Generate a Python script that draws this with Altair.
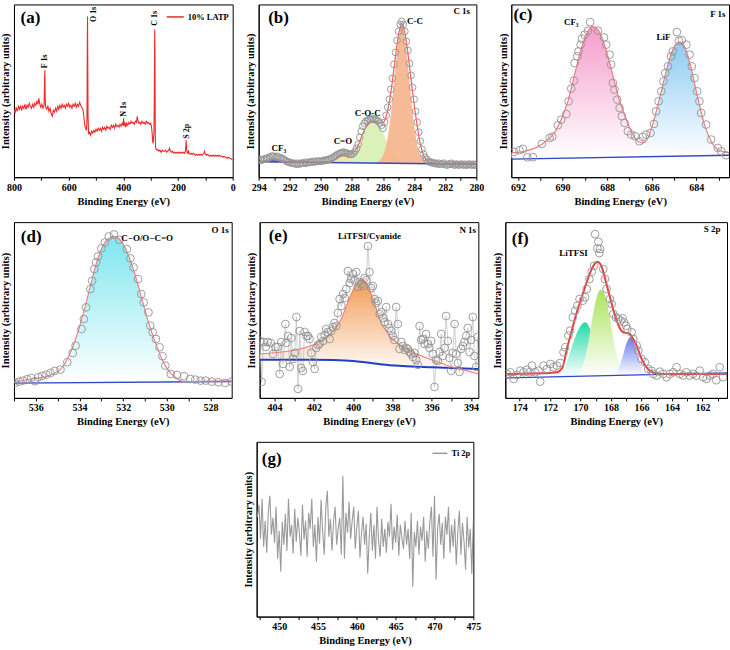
import altair as alt
import pandas as pd

FONT = "Times New Roman, Liberation Serif, serif"
XT = "Binding Energy (eV)"
YT = "Intensity (arbitrary units)"
GRAY = "#939393"

# ---------------- (a) survey ----------------
a_be = [800, 796, 792, 788, 784, 780, 776, 772, 768, 764,
        760, 756, 752, 748, 744, 740, 736, 732, 728, 724,
        720, 716, 712, 709, 706, 702, 698, 694, 690, 688,
        687, 686, 684, 680, 676, 672, 668, 664, 660, 656,
        652, 648, 644, 640, 636, 632, 628, 624, 620, 616,
        612, 608, 604, 600, 596, 592, 588, 584, 580, 576,
        572, 568, 564, 560, 556, 552, 548, 545, 541, 538,
        535, 533, 532, 531, 530, 529, 527, 524, 520, 516,
        512, 508, 504, 500, 496, 492, 488, 484, 480, 476,
        472, 468, 464, 460, 456, 452, 448, 444, 440, 436,
        432, 428, 424, 420, 416, 412, 408, 404, 401, 399,
        397, 394, 391, 388, 384, 380, 376, 372, 368, 364,
        360, 356, 352, 349, 346, 343, 340, 336, 332, 328,
        324, 320, 316, 312, 308, 304, 300, 297, 294, 292,
        290, 288, 287, 286, 285, 284, 283, 282, 280, 277,
        274, 270, 266, 262, 258, 254, 250, 246, 242, 238,
        234, 231, 228, 224, 220, 216, 212, 208, 204, 200,
        196, 192, 188, 184, 180, 176, 173, 171, 170, 169,
        167, 164, 162, 160, 156, 152, 148, 144, 140, 136,
        132, 128, 124, 120, 116, 112, 108, 105, 103, 100,
        96, 92, 88, 84, 80, 76, 72, 68, 64, 60,
        56, 52, 48, 44, 40, 36, 32, 28, 24, 20,
        16, 12, 8, 4, 0]
a_int = [68, 64, 70, 66, 71, 68, 72, 67, 71, 69,
         73, 68, 72, 70, 74, 71, 69, 73, 70, 74,
         72, 76, 73, 79, 74, 70, 73, 69, 72, 98,
         107, 80, 70, 68, 71, 66, 69, 64, 61, 67,
         65, 69, 66, 71, 68, 72, 69, 73, 70, 72,
         69, 73, 71, 74, 70, 72, 69, 73, 71, 74,
         70, 73, 71, 75, 72, 70, 68, 62, 52, 49,
         47, 58, 120, 161, 110, 60, 43, 45, 42, 46,
         44, 47, 45, 48, 46, 49, 47, 49, 46, 50,
         48, 50, 47, 51, 49, 50, 48, 52, 50, 52,
         49, 53, 51, 52, 50, 53, 51, 54, 52, 59,
         51, 55, 50, 54, 52, 55, 53, 56, 54, 55,
         53, 56, 55, 61, 56, 54, 55, 53, 56, 54,
         55, 53, 56, 54, 55, 53, 54, 51, 42, 34,
         36, 45, 70, 120, 148, 100, 40, 30, 28, 27,
         28, 26, 27, 25, 27, 26, 26, 27, 25, 26,
         27, 29, 26, 25, 26, 24, 25, 24, 25, 24,
         25, 24, 25, 24, 25, 24, 26, 33, 37, 30,
         25, 24, 27, 24, 23, 24, 23, 24, 23, 22,
         23, 22, 23, 22, 23, 22, 23, 24, 26, 23,
         22, 23, 22, 21, 22, 21, 22, 21, 22, 21,
         22, 21, 22, 21, 21, 20, 21, 20, 20, 19,
         20, 19, 19, 18, 18]
a_series = "10% LATP"
a_peak_lab = ["F 1s", "O 1s", "N 1s", "C 1s", "S 2p"]
a_peak_be = [687, 506, 398, 282.5, 166]
a_peak_int = [116, 163, 68, 159, 46]
a_ticks = [800, 700, 600, 500, 400, 300, 200, 100, 0]
a_labels = [800, 600, 400, 200, 0]

# ---------------- (b) C 1s ----------------
b_raw_be = [294.0, 293.9, 293.8, 293.7, 293.6, 293.5, 293.4, 293.3, 293.2, 293.1,
            293.0, 292.9, 292.8, 292.7, 292.6, 292.5, 292.4, 292.3, 292.2, 292.1,
            292.0, 291.9, 291.8, 291.7, 291.6, 291.5, 291.4, 291.3, 291.2, 291.1,
            291.0, 290.9, 290.8, 290.7, 290.6, 290.5, 290.4, 290.3, 290.2, 290.1,
            290.0, 289.9, 289.8, 289.7, 289.6, 289.5, 289.4, 289.3, 289.2, 289.1,
            289.0, 288.9, 288.8, 288.7, 288.6, 288.5, 288.4, 288.3, 288.2, 288.1,
            288.0, 287.9, 287.8, 287.7, 287.6, 287.5, 287.4, 287.3, 287.2, 287.1,
            287.0, 286.9, 286.8, 286.7, 286.6, 286.5, 286.4, 286.3, 286.2, 286.1,
            286.0, 285.9, 285.8, 285.7, 285.6, 285.5, 285.4, 285.3, 285.2, 285.1,
            285.0, 284.9, 284.8, 284.7, 284.6, 284.5, 284.4, 284.3, 284.2, 284.1,
            284.0, 283.9, 283.8, 283.7, 283.6, 283.5, 283.4, 283.3, 283.2, 283.1,
            283.0, 282.9, 282.8, 282.7, 282.6, 282.5, 282.4, 282.3, 282.2, 282.1,
            282.0, 281.9, 281.8, 281.7, 281.6, 281.5, 281.4, 281.3, 281.2, 281.1,
            281.0, 280.9, 280.8, 280.7, 280.6, 280.5, 280.4, 280.3, 280.2, 280.1,
            280.0]
b_raw_i = [17, 18, 17, 18, 18, 19, 19, 20, 21, 21,
           21, 20, 21, 20, 19, 19, 18, 17, 16, 15,
           15, 14, 14, 14, 13, 14, 13, 14, 14, 14,
           15, 14, 15, 15, 15, 16, 15, 16, 16, 16,
           16, 16, 17, 17, 17, 18, 18, 19, 20, 21,
           22, 23, 24, 24, 25, 25, 24, 24, 23, 23,
           23, 24, 26, 29, 33, 40, 46, 51, 54, 56,
           57, 58, 58, 59, 58, 58, 57, 56, 54, 52,
           49, 55, 62, 70, 78, 88, 99, 113, 125, 137,
           146, 153, 156, 153, 146, 136, 127, 114, 102, 90,
           78, 66, 55, 45, 36, 28, 23, 20, 18, 16,
           15, 15, 14, 14, 14, 13, 14, 13, 13, 14,
           13, 12, 13, 13, 14, 13, 12, 13, 13, 12,
           13, 13, 12, 13, 12, 13, 13, 12, 13, 12,
           13]
b_fit_be = [294.0, 293.6, 293.3, 293.0, 292.7, 292.4, 292.0, 291.0, 290.0, 289.5,
            289.2, 289.0, 288.8, 288.5, 288.2, 288.0, 287.8, 287.6, 287.4, 287.2,
            287.0, 286.8, 286.6, 286.4, 286.2, 286.0, 285.8, 285.6, 285.4, 285.2,
            285.0, 284.8, 284.6, 284.4, 284.2, 284.0, 283.8, 283.6, 283.4, 283.2,
            283.0, 282.5, 282.0, 281.0, 280.0]
b_fit_i = [15.6, 16.2, 17.2, 17.6, 17.0, 16.0, 15.3, 15.0, 15.1, 15.6,
           17.0, 19.0, 21.5, 23.5, 23.0, 23.5, 26.5, 32, 40, 47,
           52, 55, 56, 55.5, 54.5, 54.5, 61, 75, 96, 121,
           143, 154, 145, 124, 98, 73, 51, 33, 22, 17,
           15, 13.8, 13.5, 13.2, 13.0]
b_bg_be = [294.0, 280.0]
b_bg_i = [15.5, 13.0]
b_cf3_be = [293.6, 293.4, 293.2, 293.0, 292.8, 292.6, 292.4]
b_cf3_i = [15.4, 16.0, 17.0, 17.6, 17.0, 16.0, 15.4]
b_co_be = [289.8, 289.5, 289.2, 289.0, 288.8, 288.6, 288.4, 288.2, 288.0, 287.8, 287.5, 287.2]
b_co_i = [14.6, 15.5, 17.5, 19.5, 21.5, 23.0, 23.0, 21.5, 19.5, 17.5, 15.5, 14.6]
b_coc_be = [288.6, 288.4, 288.2, 288.0, 287.8, 287.6, 287.4, 287.2, 287.0, 286.8, 286.6,
            286.4, 286.2, 286.0, 285.8, 285.6, 285.4, 285.2, 285.0, 284.8, 284.6]
b_coc_i = [14.5, 15.5, 17, 20, 24, 30, 37, 44, 50, 54, 55, 54, 50, 44, 37, 30, 24, 20, 17, 15.5, 14.5]
b_cc_be = [286.6, 286.4, 286.2, 286.0, 285.8, 285.6, 285.4, 285.2, 285.0, 284.8,
           284.6, 284.4, 284.2, 284.0, 283.8, 283.6, 283.4, 283.2, 283.0, 282.8]
b_cc_i = [14, 15, 17, 22, 32, 50, 78, 110, 138, 154, 140, 112, 80, 52, 32, 21, 16.5, 14.8, 14.2, 14]
b_comp_lo = [15.3, 14.5, 14.2, 13.9]
b_lab_t = ["C 1s", "C-C", "C-O-C", "C=O", "CF\u2083"]
b_lab_be = [280.94, 283.94, 286.98, 288.58, 292.7]
b_lab_i = [166, 156, 64, 36, 29]
b_ticks = [294, 293, 292, 291, 290, 289, 288, 287, 286, 285, 284, 283, 282, 281, 280]
b_labels = [294, 292, 290, 288, 286, 284, 282, 280]

# ---------------- (c) F 1s ----------------
c_raw_be = [692.18, 691.93, 691.78, 691.58, 691.33, 690.93, 690.58, 690.46, 690.21, 690.06,
            689.83, 689.73, 689.61, 689.49, 689.46, 689.34, 689.28, 689.19, 689.13, 689.01,
            688.86, 688.76, 688.41, 688.14, 688.04, 687.89, 687.82, 687.74, 687.67, 687.55,
            687.44, 687.34, 687.22, 687.07, 686.92, 686.74, 686.55, 686.4, 686.25, 686.05,
            685.9, 685.8, 685.69, 685.57, 685.47, 685.39, 685.27, 685.13, 685.05, 684.87,
            684.78, 684.65, 684.44, 684.3, 684.2, 684.08, 683.96, 683.86, 683.78, 683.56,
            683.33, 683.03, 682.88, 682.66]
c_raw_i = [25.3, 27, 28.3, 20, 20, 33.3, 39.3, 40.7, 52, 57.7,
           63.3, 76, 88.7, 96.7, 114.3, 121, 126, 132.7, 138.7, 142.7,
           146.7, 155.3, 146.7, 140, 132.7, 122.7, 112.7, 94.3, 87.7, 77.7,
           69.3, 61, 54.3, 46, 42.7, 41, 36, 40.3, 42.7, 44.3,
           53.3, 66, 76, 86, 96, 104.3, 111, 121, 126, 145.3,
           136.7, 137.3, 132.7, 122.7, 111, 99.3, 86, 76, 64.3, 52.7,
           37.7, 29.3, 26, 22]
c_fit_be = [692.3, 691.7, 690.95, 690.2, 689.76, 689.46, 689.16, 688.86, 688.64, 688.41,
            688.12, 687.82, 687.52, 687.22, 686.92, 686.62, 686.4, 686.17, 685.87, 685.57,
            685.27, 684.98, 684.75, 684.53, 684.23, 683.93, 683.63, 683.33, 683.03, 682.53]
c_fit_i = [24.3, 26, 32.7, 51, 76, 102.7, 129, 146, 151, 147.7,
           132.7, 109, 82.7, 62.7, 46, 36, 34.3, 39, 59.3, 86,
           112.7, 131, 135.3, 131, 109, 79.3, 52.7, 36, 27.7, 24.3]
c_cf3_be = [692.3, 691.7, 690.95, 690.2, 689.76, 689.46, 689.16, 688.86, 688.64, 688.41,
            688.12, 687.82, 687.52, 687.22, 686.92, 686.62, 686.4, 686.17, 685.9, 685.6]
c_cf3_i = [24, 26, 32.5, 51, 76, 102.5, 129, 146, 151, 147.5,
           132.5, 109, 82.5, 62.5, 45, 33, 27, 23, 20.5, 20]
c_lif_be = [687.2, 686.9, 686.62, 686.4, 686.17, 685.87, 685.57, 685.27, 684.98, 684.75,
            684.53, 684.23, 683.93, 683.63, 683.33, 683.03, 682.53]
c_lif_i = [20.5, 21.5, 24, 28, 36, 58, 85.5, 112.5, 131, 135.3,
           131, 109, 79, 52.5, 36, 27.5, 24]
c_comp_lo = [19.5, 21]
c_bg_be = [692.3, 682.53]
c_bg_i = [18, 22]
c_lab_t = ["F 1s", "CF\u2083", "LiF"]
c_lab_be = [683.03, 689.61, 685.47]
c_lab_i = [163.3, 155.3, 140]
c_ticks = [692, 691, 690, 689, 688, 687, 686, 685, 684, 683]
c_labels = [692, 690, 688, 686, 684]

# ---------------- (d) O 1s ----------------
d_raw_be = [536.95, 536.77, 536.59, 536.39, 536.21, 536.04, 535.89, 535.71, 535.52, 535.33,
            535.13, 534.87, 534.56, 534.31, 534.18, 533.91, 533.8, 533.7, 533.5, 533.42,
            533.32, 533.24, 533.15, 533.0, 532.84, 532.66, 532.42, 532.18, 531.83, 531.67,
            531.52, 531.32, 531.17, 531.06, 530.84, 530.76, 530.65, 530.5, 530.33, 530.2,
            530.07, 529.82, 529.54, 529.21, 528.93, 528.7, 528.45, 528.22, 527.94, 527.64,
            527.33, 527.03]
d_raw_i = [15, 16.3, 17.3, 18.7, 20, 16.7, 20.7, 22, 23.3, 25,
           27, 28.3, 35.7, 45, 52.3, 69, 79, 90.7, 109, 117.3,
           129, 135.7, 141.7, 149.7, 155.7, 161.7, 163.7, 158.3, 149, 139.7,
           130.7, 119, 104, 95.7, 85.7, 72.3, 65.7, 59, 50.7, 41.7,
           32.3, 24, 23, 21.7, 19, 18.3, 17.3, 17.3, 16.3, 15.7,
           15, 16.3]
d_fit_be = [537.0, 536.16, 535.4, 534.79, 534.41, 534.03, 533.73, 533.42, 533.12, 532.81,
            532.43, 532.05, 531.75, 531.44, 531.14, 530.84, 530.53, 530.23, 529.92, 529.62,
            529.16, 528.55, 527.03]
d_fit_i = [16.3, 19, 22.3, 30.7, 45.7, 69, 92.3, 119, 142.3, 156.3,
           161.7, 155.7, 142.3, 122.3, 99, 75.7, 55.7, 39, 27.3, 20.7,
           16.3, 16.5, 17]
d_comp_lo = [15.3]
d_bg_be = [537.0, 527.03]
d_bg_i = [14.7, 16.4]
d_lab_t = ["O 1s", "C\u2212O/O\u2212C=O"]
d_lab_be = [527.56, 530.9]
d_lab_i = [168.3, 159.7]
d_ticks = [537, 536, 535, 534, 533, 532, 531, 530, 529, 528]
d_labels = [536, 534, 532, 530, 528]

# ---------------- (e) N 1s ----------------
e_raw_be = [404.74, 404.66, 404.55, 404.45, 404.35, 404.2, 404.08, 403.95, 403.83, 403.74,
            403.66, 403.57, 403.45, 403.4, 403.32, 403.23, 403.15, 403.06, 402.97, 402.89,
            402.81, 402.72, 402.64, 402.56, 402.47, 402.38, 402.3, 402.22, 402.13, 402.05,
            401.96, 401.88, 401.8, 401.71, 401.62, 401.53, 401.45, 401.37, 401.29, 401.2,
            401.12, 401.03, 400.95, 400.86, 400.78, 400.69, 400.6, 400.52, 400.43, 400.35,
            400.27, 400.18, 400.1, 400.01, 399.93, 399.84, 399.76, 399.68, 399.59, 399.5,
            399.42, 399.33, 399.25, 399.17, 399.08, 399.0, 398.91, 398.83, 398.74, 398.65,
            398.57, 398.48, 398.4, 398.32, 398.23, 398.15, 398.06, 397.98, 397.9, 397.81,
            397.73, 397.64, 397.55, 397.47, 397.38, 397.3, 397.22, 397.13, 397.05, 396.96,
            396.88, 396.79, 396.71, 396.62, 396.54, 396.45, 396.37, 396.29, 396.2, 396.12,
            396.03, 395.95, 395.86, 395.78, 395.69, 395.6, 395.52, 395.44, 395.35, 395.27,
            395.18, 395.1, 395.01, 394.93, 394.84, 394.76, 394.67, 394.59, 394.51, 394.42,
            394.34, 394.25, 394.17, 394.08, 394.0, 393.91, 393.83, 393.74, 393.66]
e_raw_i = [57, 16, 56, 51, 56, 55, 44, 51, 51, 24,
           56, 34, 74, 55, 62, 31, 60, 39, 45, 81,
           9, 67, 30, 27, 66, 62, 62, 59, 45, 36,
           29, 50, 53, 54, 61, 57, 63, 69, 66, 59,
           67, 71, 75, 72, 85, 99, 92, 104, 100, 109,
           127, 115, 119, 124, 118, 126, 111, 116, 114, 112,
           120, 118, 152, 126, 110, 112, 99, 95, 97, 84,
           86, 80, 76, 91, 74, 70, 67, 62, 58, 91,
           74, 49, 56, 52, 48, 50, 49, 46, 44, 41,
           45, 38, 33, 72, 58, 59, 54, 64, 54, 50,
           57, 44, 11, 38, 37, 46, 64, 42, 50, 82,
           57, 40, 27, 45, 74, 44, 35, 26, 49, 52,
           56, 62, 70, 46, 58, 81, 42, 31, 61]
e_fit_be = [404.76, 403.74, 402.73, 402.05, 401.37, 400.95, 400.61, 400.27, 399.93, 399.59,
            399.34, 398.99, 398.66, 398.23, 397.81, 396.96, 396.12, 395.27, 394.42, 393.63]
e_fit_i = [44, 45.7, 49, 53, 60.7, 69, 79, 95.7, 110.7, 119,
           115.7, 99, 79, 64, 55.7, 45.7, 39, 33, 28.3, 24]
e_fit_lo = [38.3, 38.3, 38.3, 38.2, 37.8, 37.5, 37.2, 36.8, 36.3, 35.8,
            35.3, 34.8, 34, 33.1, 32.5, 31.7, 30.7, 30.2, 28.3, 24]
e_bg_be = [404.76, 402.0, 401.0, 400.0, 399.5, 399.0, 398.5, 397.5, 396.0, 393.63]
e_bg_i = [38.3, 38.3, 38, 37, 36, 34.8, 33.5, 32, 30.7, 29]
e_lab_t = ["N 1s", "LiTFSI/Cyanide"]
e_lab_be = [394.17, 399.17]
e_lab_i = [168.3, 162.3]
e_ticks = [404, 403, 402, 401, 400, 399, 398, 397, 396, 395, 394]
e_labels = [404, 402, 400, 398, 396, 394]

# ---------------- (f) S 2p ----------------
f_raw_be = [174.83, 174.61, 174.39, 174.18, 173.96, 173.74, 173.52, 173.35, 173.19, 172.98,
            172.76, 172.65, 172.43, 172.21, 171.99, 171.78, 171.56, 171.34, 171.12, 171.01,
            170.8, 170.69, 170.51, 170.36, 170.21, 170.07, 169.86, 169.7, 169.59, 169.42,
            169.27, 169.11, 169.05, 168.9, 168.83, 168.77, 168.72, 168.51, 168.4, 168.29,
            168.07, 167.96, 167.85, 167.68, 167.52, 167.37, 167.24, 167.15, 167.02, 166.93,
            166.65, 166.54, 166.32, 166.21, 166.0, 165.78, 165.56, 165.34, 165.23, 165.01,
            164.8, 164.58, 164.36, 164.14, 163.92, 163.7, 163.49, 163.27, 163.05, 162.83,
            162.61, 162.4, 162.18, 161.96, 161.74, 161.52, 161.31, 161.09, 160.87, 160.65]
f_raw_i = [24, 25.7, 19, 23, 27.3, 25.7, 28.3, 25.7, 32.3, 25.7,
           27.3, 16.3, 32.3, 29, 34, 30.7, 32.3, 35, 45.7, 50.7,
           62.3, 67.3, 80.7, 87.3, 92.3, 99, 97.3, 100.7, 109, 119,
           126.3, 132.3, 164, 149.7, 156.3, 145, 149, 129, 119, 109,
           99, 94, 84, 80.7, 79, 77.3, 79.7, 75.7, 72.3, 69,
           65.7, 59, 52.3, 47.3, 39, 35.7, 29, 27.3, 24, 22.3,
           26.3, 24, 20.7, 24, 25.7, 30.7, 24, 22.3, 25.7, 22.3,
           24, 22.3, 27.3, 20.7, 19, 22.3, 24, 17.7, 30.7, 20.7]
f_fit_be = [174.94, 173, 172, 171.56, 171.2, 170.9, 170.6, 170.25, 169.9, 169.6,
            169.16, 168.9, 168.7, 168.5, 168.3, 168.07, 167.85, 167.63, 167.4, 167.2,
            166.95, 166.76, 166.55, 166.32, 166.1, 165.89, 165.67, 165.45, 165.0, 164.58,
            162, 160.39]
f_fit_i = [24, 24.5, 25, 25.7, 30, 49, 66, 85.7, 102, 115.7,
           132.3, 136.3, 134, 125.7, 114, 100.7, 88, 77.3, 69, 65.7,
           65, 64, 59, 52.3, 43, 35.7, 30.5, 27.3, 24.5, 24,
           24, 24]
f_c1_be = [171.5, 171.2, 170.9, 170.6, 170.3, 170.0, 169.7, 169.4, 169.1, 168.8, 168.5, 168.2]
f_c1_i = [22, 26, 36, 50, 63, 72, 75.7, 70, 56, 40, 28, 22.5]
f_c2_be = [170.4, 170.1, 169.8, 169.5, 169.2, 168.9, 168.66, 168.4, 168.1, 167.8, 167.5, 167.2, 166.9]
f_c2_i = [22, 25, 35, 55, 82, 103, 108.3, 103, 82, 55, 35, 25, 22]
f_c3_be = [167.9, 167.6, 167.3, 167.0, 166.72, 166.45, 166.15, 165.85, 165.55]
f_c3_i = [22.5, 26, 38, 54, 60.7, 54, 38, 26, 22.5]
f_comp_lo = [21, 21.5, 22]
f_bg_be = [174.94, 160.39]
f_bg_i = [20, 25]
f_lab_t = ["S 2p", "LiTFSI"]
f_lab_be = [161.37, 170.47]
f_lab_i = [169, 145]
f_ticks = [174, 173, 172, 171, 170, 169, 168, 167, 166, 165, 164, 163, 162, 161]
f_labels = [174, 172, 170, 168, 166, 164, 162]

# ---------------- (g) Ti 2p ----------------
g_be = [447.2, 447.4, 447.6, 447.8, 448.0, 448.2, 448.4, 448.6, 448.8, 449.0,
        449.2, 449.4, 449.6, 449.8, 450.0, 450.2, 450.4, 450.6, 450.8, 451.0,
        451.2, 451.4, 451.6, 451.8, 452.0, 452.2, 452.4, 452.6, 452.8, 453.0,
        453.2, 453.4, 453.6, 453.8, 454.0, 454.2, 454.4, 454.6, 454.8, 455.0,
        455.2, 455.4, 455.6, 455.8, 456.0, 456.2, 456.4, 456.6, 456.8, 457.0,
        457.2, 457.4, 457.6, 457.8, 458.0, 458.2, 458.4, 458.6, 458.8, 459.0,
        459.2, 459.4, 459.6, 459.8, 460.0, 460.2, 460.4, 460.6, 460.8, 461.0,
        461.2, 461.4, 461.6, 461.8, 462.0, 462.2, 462.4, 462.6, 462.8, 463.0,
        463.2, 463.4, 463.6, 463.8, 464.0, 464.2, 464.4, 464.6, 464.8, 465.0,
        465.2, 465.4, 465.6, 465.8, 466.0, 466.2, 466.4, 466.6, 466.8, 467.0,
        467.2, 467.4, 467.6, 467.8, 468.0, 468.2, 468.4, 468.6, 468.8, 469.0,
        469.2, 469.4, 469.6, 469.8, 470.0, 470.2, 470.4, 470.6, 470.8, 471.0,
        471.2, 471.4, 471.6, 471.8, 472.0, 472.2, 472.4, 472.6, 472.8, 473.0,
        473.2, 473.4, 473.6, 473.8, 474.0, 474.2, 474.4, 474.6, 474.8, 475.0]
g_int = [100, 112, 78, 118, 70, 96, 64, 105, 121, 82,
         99, 74, 110, 58, 86, 45, 95, 72, 103, 66,
         118, 80, 92, 63, 108, 75, 99, 84, 61, 112,
         77, 96, 60, 104, 88, 118, 70, 92, 55, 100,
         73, 117, 85, 62, 109, 126, 80, 98, 66, 95,
         110, 72, 88, 99, 62, 141, 58, 104, 84, 115,
         78, 96, 110, 68, 90, 106, 59, 84, 100, 72,
         93, 43, 80, 104, 66, 92, 58, 110, 76, 60,
         98, 70, 88, 64, 95, 80, 113, 67, 90, 74,
         102, 61, 92, 79, 68, 96, 72, 88, 58, 104,
         30, 85, 70, 96, 62, 90, 76, 100, 55, 86,
         68, 95, 110, 60, 121, 37, 88, 103, 72, 94,
         58, 100, 82, 110, 64, 92, 70, 98, 52, 85,
         106, 62, 94, 75, 47, 100, 69, 88, 43, 96]
g_series = "Ti 2p"
g_ticks = [447.5, 450, 452.5, 455, 457.5, 460, 462.5, 465, 467.5, 470, 472.5, 475]
g_labels = [450, 455, 460, 465, 470, 475]

# panel tags
tag_text = ["(a)", "(b)", "(c)", "(d)", "(e)", "(f)", "(g)"]
tag_be = [740, 292.72, 691.78, 536.21, 403.82, 173.96, 449.03]
tag_i = [159.3, 159.3, 162, 160.7, 162.3, 159, 158]


# ---------------- helpers ----------------
def xenc(dom, rev, ticks, labs):
    expr = ("indexof([" + ",".join(str(v) for v in labs) +
            "], datum.value) >= 0 ? format(datum.value, 'd') : ''")
    return alt.X("be:Q",
                 scale=alt.Scale(domain=dom, reverse=rev, nice=False, zero=False),
                 axis=alt.Axis(values=ticks, labelExpr=expr, labelOverlap=False,
                               labelFlush=False, title=XT))


def yenc(ymax):
    return alt.Y("i:Q", scale=alt.Scale(domain=[0, ymax], nice=False, zero=False),
                 axis=alt.Axis(title=YT, labels=False, ticks=False))


def grad(c):
    return alt.Gradient(gradient="linear",
                        stops=[alt.GradientStop(color="white", offset=0),
                               alt.GradientStop(color=c, offset=1)],
                        x1=1, x2=1, y1=1, y2=0)


def area(be, top, lo, fill, X, Y, opacity=1.0):
    d = pd.DataFrame({"be": be, "i": top, "lo": [lo] * len(be)})
    return alt.Chart(d).mark_area(color=fill, opacity=opacity, interpolate="monotone",
                                  clip=True).encode(x=X, y=Y, y2="lo:Q")


def line(be, vals, color, width, X, Y, interp="monotone"):
    d = pd.DataFrame({"be": be, "i": vals})
    return alt.Chart(d).mark_line(color=color, strokeWidth=width, interpolate=interp,
                                  clip=True).encode(x=X, y=Y)


def points(be, vals, X, Y, size=55):
    d = pd.DataFrame({"be": be, "i": vals})
    return alt.Chart(d).mark_point(shape="circle", filled=False, size=size, color=GRAY,
                                   strokeWidth=0.9, opacity=1, clip=True).encode(x=X, y=Y)


def texts(t, be, vals, X, Y, size=9, angle=0):
    d = pd.DataFrame({"be": be, "i": vals, "t": t})
    kw = dict(font=FONT, fontWeight="bold", fontSize=size, color="black",
              align="center", baseline="middle")
    if angle:
        kw["angle"] = angle
    return alt.Chart(d).mark_text(**kw).encode(x=X, y=Y, text="t:N")


def tag(k, X, Y):
    return texts([tag_text[k]], [tag_be[k]], [tag_i[k]], X, Y, size=17)


def legend(size):
    return alt.Legend(orient="top-right", title=None, symbolType="stroke",
                      symbolStrokeWidth=1.5, symbolSize=size, offset=3, padding=0,
                      labelFont=FONT, labelFontWeight="bold", labelFontSize=8.5,
                      labelColor="black", labelOffset=3)


# ---------------- (a) ----------------
Xa = xenc([0, 800], True, a_ticks, a_labels)
Ya = yenc(173)
a_df = pd.DataFrame({"be": a_be, "i": a_int, "sa": [a_series] * len(a_be)})
pa = alt.layer(
    alt.Chart(a_df).mark_line(strokeWidth=1.1, clip=True).encode(
        x=Xa, y=Ya,
        color=alt.Color("sa:N", scale=alt.Scale(domain=[a_series], range=["#ee2a2a"]),
                        legend=legend(290))),
    texts(a_peak_lab, a_peak_be, a_peak_int, Xa, Ya, size=8, angle=270),
    tag(0, Xa, Ya),
).properties(width=219, height=173)

# ---------------- (b) ----------------
Xb = xenc([280, 294], True, b_ticks, b_labels)
Yb = yenc(173)
pb = alt.layer(
    area(b_cf3_be, b_cf3_i, b_comp_lo[0], "#2f5fe0", Xb, Yb, 0.9),
    area(b_co_be, b_co_i, b_comp_lo[1], "#f3e49a", Xb, Yb, 0.9),
    area(b_coc_be, b_coc_i, b_comp_lo[2], "#d6efb2", Xb, Yb, 0.9),
    area(b_cc_be, b_cc_i, b_comp_lo[3], "#f6b28b", Xb, Yb, 0.9),
    line(b_bg_be, b_bg_i, "#3346c8", 1.5, Xb, Yb, "linear"),
    line(b_fit_be, b_fit_i, "#ff5a5a", 1.2, Xb, Yb),
    points(b_raw_be, b_raw_i, Xb, Yb, 45),
    texts(b_lab_t, b_lab_be, b_lab_i, Xb, Yb),
    tag(1, Xb, Yb),
).properties(width=218, height=173)

# ---------------- (c) ----------------
Xc = xenc([682.53, 692.3], True, c_ticks, c_labels)
Yc = yenc(173)
pc = alt.layer(
    area(c_cf3_be, c_cf3_i, c_comp_lo[0], grad("#f59ccb"), Xc, Yc),
    area(c_lif_be, c_lif_i, c_comp_lo[1], grad("#8ccbf2"), Xc, Yc),
    line(c_bg_be, c_bg_i, "#2f48c8", 1.3, Xc, Yc, "linear"),
    line(c_fit_be, c_fit_i, "#f47a7a", 1.2, Xc, Yc),
    points(c_raw_be, c_raw_i, Xc, Yc, 60),
    texts(c_lab_t, c_lab_be, c_lab_i, Xc, Yc),
    tag(2, Xc, Yc),
).properties(width=218, height=173)

# ---------------- (d) ----------------
Xd = xenc([527.03, 537.0], True, d_ticks, d_labels)
Yd = yenc(176)
pd_ = alt.layer(
    area(d_fit_be, d_fit_i, d_comp_lo[0], grad("#7ee6ee"), Xd, Yd),
    line(d_bg_be, d_bg_i, "#2f48c8", 1.3, Xd, Yd, "linear"),
    line(d_fit_be, d_fit_i, "#f47a7a", 1.1, Xd, Yd),
    points(d_raw_be, d_raw_i, Xd, Yd, 60),
    texts(d_lab_t, d_lab_be, d_lab_i, Xd, Yd),
    tag(3, Xd, Yd),
).properties(width=218, height=176)

# ---------------- (e) ----------------
Xe = xenc([393.63, 404.76], True, e_ticks, e_labels)
Ye = yenc(176)
e_fill = pd.DataFrame({"be": e_fit_be, "i": e_fit_i, "lo": e_fit_lo})
pe = alt.layer(
    alt.Chart(e_fill).mark_area(color=grad("#f39b55"), interpolate="monotone", clip=True)
    .encode(x=Xe, y=Ye, y2="lo:Q"),
    line(e_raw_be, e_raw_i, "#c4c4c4", 0.8, Xe, Ye, "linear"),
    line(e_bg_be, e_bg_i, "#1f3fc8", 2, Xe, Ye),
    line(e_fit_be, e_fit_i, "#f47a7a", 1.1, Xe, Ye),
    points(e_raw_be, e_raw_i, Xe, Ye, 60),
    texts(e_lab_t, e_lab_be, e_lab_i, Xe, Ye),
    tag(4, Xe, Ye),
).properties(width=219, height=176)

# ---------------- (f) ----------------
Xf = xenc([160.39, 174.94], True, f_ticks, f_labels)
Yf = yenc(176)
pf = alt.layer(
    area(f_c1_be, f_c1_i, f_comp_lo[0], grad("#22dca8"), Xf, Yf),
    area(f_c2_be, f_c2_i, f_comp_lo[1], grad("#abe35c"), Xf, Yf),
    area(f_c3_be, f_c3_i, f_comp_lo[2], grad("#6a7cf0"), Xf, Yf),
    line(f_bg_be, f_bg_i, "#2f48c8", 1.3, Xf, Yf, "linear"),
    line(f_fit_be, f_fit_i, "#f03c3c", 2, Xf, Yf),
    points(f_raw_be, f_raw_i, Xf, Yf, 60),
    texts(f_lab_t, f_lab_be, f_lab_i, Xf, Yf),
    tag(5, Xf, Yf),
).properties(width=222, height=176)

# ---------------- (g) ----------------
Xg = xenc([447.1, 475.0], False, g_ticks, g_labels)
Yg = yenc(175)
g_df = pd.DataFrame({"be": g_be, "i": g_int, "sg": [g_series] * len(g_be)})
pg = alt.layer(
    alt.Chart(g_df).mark_line(strokeWidth=1.1, clip=True).encode(
        x=Xg, y=Yg,
        color=alt.Color("sg:N", scale=alt.Scale(domain=[g_series], range=["#9a9a9a"]),
                        legend=legend(225))),
    tag(6, Xg, Yg),
).properties(width=217, height=175)

spacer = alt.Chart(pd.DataFrame({"be": [0]})).mark_point(opacity=0).encode(
    x=alt.X("be:Q", axis=None), y=alt.Y("be:Q", axis=None)
).properties(width=200, height=175, view=alt.ViewBackground(stroke="transparent"))

row1 = alt.hconcat(pa, alt.hconcat(pb, pc, spacing=13), spacing=9).resolve_scale(color="independent")
row2 = alt.hconcat(pd_, alt.hconcat(pe, pf, spacing=12), spacing=13)
row3 = alt.hconcat(spacer, pg, spacing=28).resolve_scale(color="independent")
lower = alt.vconcat(row2, row3, spacing=13).resolve_scale(color="independent")
chart = alt.vconcat(row1, lower, spacing=14).resolve_scale(
    color="independent"
).properties(
    padding={"left": 0, "top": 3, "right": 0, "bottom": 0}, background="white"
).configure_view(stroke="black", strokeWidth=1).configure_axis(
    labelFont=FONT, labelFontSize=10, labelFontWeight="bold", labelColor="black",
    titleFont=FONT, titleFontSize=10.5, titleFontWeight="bold", titleColor="black",
    domainColor="black", domainWidth=1, tickColor="black", tickSize=3, tickWidth=1,
    labelPadding=2, grid=False
).configure_axisX(titlePadding=4).configure_axisY(titlePadding=3)

chart.save("out.html", embed_options={"renderer": "svg", "actions": False})
